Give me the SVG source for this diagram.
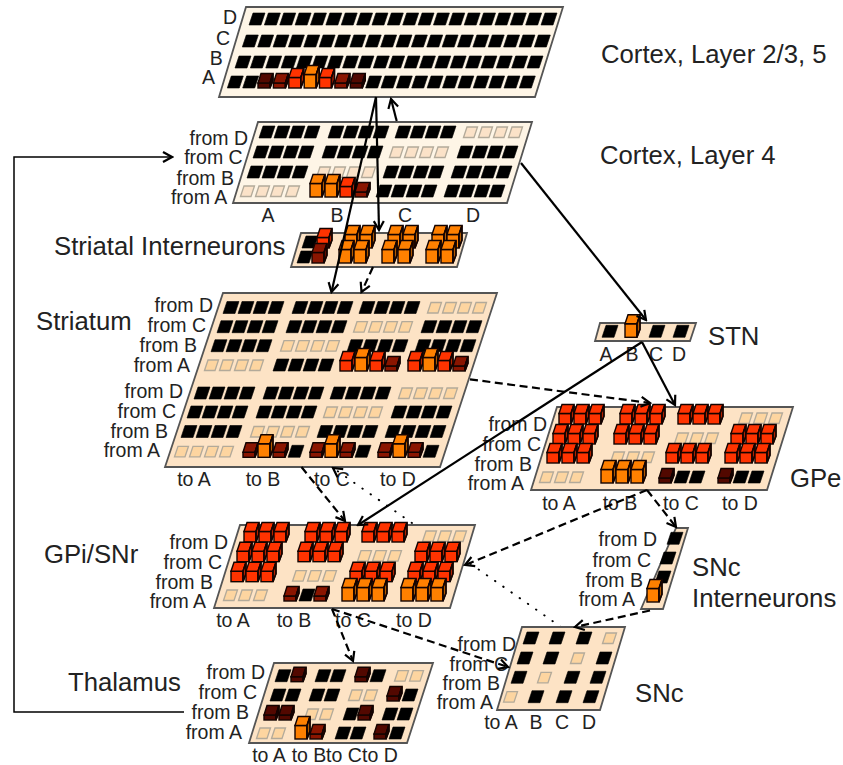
<svg xmlns="http://www.w3.org/2000/svg" width="843" height="765" viewBox="0 0 843 765">
<style>
text{font-family:"Liberation Sans",Arial,sans-serif;fill:#222}
.L{font-size:25.7px}
.s{font-size:19.5px;text-anchor:end}
.c{font-size:19.5px;text-anchor:middle}
.p{stroke:#555;stroke-width:1.8}
.pl{fill:#fef5e6}
.pk{fill:#fde3c5}
.cn{fill:none;stroke:#000;stroke-width:2.2;marker-end:url(#a)}
.da{stroke-dasharray:8 4.5}
.dt{stroke-width:1.9;stroke-dasharray:.5 9.5;stroke-linecap:round}
.nm{marker-end:none}
.lt{fill:#fbe2c8}
</style>
<defs>
<marker id="a" viewBox="-12 -7 14 14" refX="0" refY="0" markerWidth="14" markerHeight="14" markerUnits="userSpaceOnUse" orient="auto"><path d="M-9,-5 L0,0 L-9,5" fill="none" stroke="#000" stroke-width="2.2"/></marker>
<polygon id="k" points="0,0 4,-12 16,-12 12,0" fill="#000" stroke="#000" stroke-width=".6"/>
<polygon id="e0" points="0.5,-0.5 4,-11 14.5,-11 11,-0.5" stroke="#b3aa9a" stroke-width="1.3"/>
<use id="e" href="#e0" fill="#fdd5a0"/>
<g id="c13" stroke="#140300" stroke-width="1.4"><rect x="0" y="-13.5" width="12" height="13.5"/><polygon points="0,-13.5 3,-22.5 15,-22.5 12,-13.5"/><polygon points="12,-13.5 15,-22.5 15,-8 12,0"/><polygon points="12,-13.5 15,-22.5 15,-8 12,0" fill="#000" fill-opacity=".3"/></g>
<g id="c10" stroke="#140300" stroke-width="1.4"><rect x="0" y="-10.5" width="12" height="10.5"/><polygon points="0,-10.5 3,-19.5 15,-19.5 12,-10.5"/><polygon points="12,-10.5 15,-19.5 15,-8 12,0"/><polygon points="12,-10.5 15,-19.5 15,-8 12,0" fill="#000" fill-opacity=".3"/></g>
<g id="c5" stroke="#140300" stroke-width="1.4"><rect x="0" y="-5" width="12" height="5"/><polygon points="0,-5 3,-14.5 15,-14.5 12,-5"/><polygon points="12,-5 15,-14.5 15,-8 12,0"/><polygon points="12,-5 15,-14.5 15,-8 12,0" fill="#000" fill-opacity=".3"/></g>
<use id="o" href="#c13" fill="#ff8000"/>
<use id="r" href="#c10" fill="#ff3300"/>
<use id="d" href="#c5" fill="#8a1500"/>
<use id="x" href="#c5" fill="#520800"/>
<g id="k4"><use href="#k"/><use href="#k" x="15"/><use href="#k" x="30"/><use href="#k" x="45"/></g>
<g id="e4"><use href="#e"/><use href="#e" x="15"/><use href="#e" x="30"/><use href="#e" x="45"/></g>
<g id="l4"><use href="#e0"/><use href="#e0" x="15"/><use href="#e0" x="30"/><use href="#e0" x="45"/></g>
<g id="r3"><use href="#r"/><use href="#r" x="15"/><use href="#r" x="30"/></g>
<g id="o3"><use href="#o"/><use href="#o" x="15"/><use href="#o" x="30"/></g>
<g id="e3"><use href="#e"/><use href="#e" x="15"/><use href="#e" x="30"/></g>
<g id="k5"><use href="#k"/><use href="#k" x="15.37"/><use href="#k" x="30.74"/><use href="#k" x="46.11"/><use href="#k" x="61.48"/></g>
<g id="k20"><use href="#k5"/><use href="#k5" x="76.85"/><use href="#k5" x="153.7"/><use href="#k5" x="230.55"/></g>
<g id="h3"><use href="#r" x="0"/><use href="#o" x="15"/><use href="#r" x="30"/><use href="#d" x="45"/></g>
<g id="h4"><use href="#d" x="0"/><use href="#o" x="15"/><use href="#d" x="30"/><use href="#k" x="45"/></g>
</defs>
<rect width="843" height="765" fill="#fff"/>

<path class="cn dt nm" d="M561,627 L468,562"/>
<g id="cortex23">
<polygon class="p pl" points="246,7 563,7 535,97 219,97"/>
<use href="#k20" x="249" y="25"/><use href="#k20" x="242.3" y="47"/><use href="#k20" x="235" y="68"/>
<use href="#k" x="227.3" y="88"/><use href="#k" x="242.7" y="88"/><use href="#x" x="258" y="88"/><use href="#d" x="273.4" y="88"/><use href="#r" x="288.8" y="88"/><use href="#o" x="304.2" y="88"/><use href="#r" x="319.5" y="88"/><use href="#d" x="334.9" y="88"/><use href="#x" x="350.3" y="88"/><use href="#k5" x="365.6" y="88"/><use href="#k5" x="442.5" y="88"/><use href="#k" x="519.3" y="88"/>
<text class="s" x="237" y="24">D</text><text class="s" x="230" y="45">C</text><text class="s" x="222.7" y="65">B</text><text class="s" x="215" y="84">A</text>
<text class="L" x="601" y="63">Cortex, Layer 2/3, 5</text>
</g>

<g id="cortex4">
<polygon class="p pl" points="258,122 532,122 507,203 233,203"/>
<use href="#k4" x="259" y="138"/><use href="#k4" x="328" y="138"/><use href="#k4" x="395" y="138"/><use class="lt" href="#l4" x="463" y="138"/>
<use href="#k4" x="253" y="158"/><use href="#k4" x="322" y="158"/><use class="lt" href="#l4" x="389" y="158"/><use href="#k4" x="457" y="158"/>
<use href="#k4" x="247" y="178"/><use class="lt" href="#l4" x="316" y="178"/><use href="#k4" x="383" y="178"/><use href="#k4" x="451" y="178"/>
<use class="lt" href="#l4" x="240" y="197"/><use href="#o" x="310" y="197"/><use href="#o" x="325" y="197"/><use href="#r" x="340" y="197"/><use href="#d" x="355" y="197"/><use href="#k4" x="376" y="197"/><use href="#k4" x="444" y="197"/>
<text class="s" x="248" y="145">from D</text><text class="s" x="242.7" y="164">from C</text><text class="s" x="234" y="185">from B</text><text class="s" x="227.3" y="204">from A</text>
<text class="c" x="268" y="222">A</text><text class="c" x="337" y="222">B</text><text class="c" x="405" y="222">C</text><text class="c" x="473" y="222">D</text>
<text class="L" x="600" y="164">Cortex, Layer 4</text>
</g>

<g id="striatal-interneurons">
<polygon class="p pk" points="301,233 467,233 457,267 291,267"/>
<use href="#k" x="302" y="248"/><use href="#k" x="297" y="263"/><use href="#r" x="317" y="248"/><use href="#c10" fill="#8a1500" x="312" y="263"/>
<use href="#o" x="345" y="248"/><use href="#o" x="360" y="248"/><use href="#o" x="339" y="263"/><use href="#o" x="354" y="263"/>
<use href="#o" x="388" y="248"/><use href="#o" x="403" y="248"/><use href="#o" x="382" y="263"/><use href="#o" x="398" y="263"/>
<use href="#o" x="432" y="248"/><use href="#o" x="447" y="248"/><use href="#o" x="426" y="263"/><use href="#o" x="441" y="263"/>
<text class="L" x="54" y="255">Striatal Interneurons</text>
</g>

<g id="striatum">
<polygon class="p pk" points="223,293 497,293 440,467 165,467"/>
<use href="#k4" x="223" y="313.5"/><use href="#k4" x="292" y="313.5"/><use href="#k4" x="359" y="313.5"/><use href="#e4" x="427" y="313.5"/>
<use href="#k4" x="217" y="332.7"/><use href="#k4" x="286" y="332.7"/><use href="#e4" x="353" y="332.7"/><use href="#k4" x="421" y="332.7"/>
<use href="#k4" x="211" y="351.7"/><use href="#e4" x="280" y="351.7"/><use href="#k4" x="347" y="351.7"/><use href="#k4" x="415" y="351.7"/>
<use href="#e4" x="204" y="371"/><use href="#k4" x="273" y="371"/><use href="#h3" x="340" y="371"/><use href="#h3" x="408" y="371"/>
<use href="#k4" x="194" y="399"/><use href="#k4" x="263" y="399"/><use href="#k4" x="330" y="399"/><use href="#e4" x="398" y="399"/>
<use href="#k4" x="187" y="418"/><use href="#k4" x="256" y="418"/><use href="#e4" x="323" y="418"/><use href="#k4" x="391" y="418"/>
<use href="#k4" x="181" y="437.5"/><use href="#e4" x="250" y="437.5"/><use href="#k4" x="317" y="437.5"/><use href="#k4" x="385" y="437.5"/>
<use href="#e4" x="174" y="457.3"/><use href="#h4" x="243" y="457.3"/><use href="#h4" x="310" y="457.3"/><use href="#h4" x="378" y="457.3"/>
<text class="s" x="213" y="312">from D</text><text class="s" x="206" y="332">from C</text><text class="s" x="197" y="352">from B</text><text class="s" x="190" y="372">from A</text>
<text class="s" x="183" y="398">from D</text><text class="s" x="176" y="418">from C</text><text class="s" x="168" y="438">from B</text><text class="s" x="160" y="457">from A</text>
<text class="c" x="194" y="486">to A</text><text class="c" x="263" y="486">to B</text><text class="c" x="332" y="486">to C</text><text class="c" x="398" y="486">to D</text>
<text class="L" x="36" y="330">Striatum</text>
</g>

<g id="stn">
<polygon class="p pk" points="600,323 696,323 690,341 595,341"/>
<use href="#k" x="602" y="337.3"/><use href="#o" x="625" y="337.3"/><use href="#k" x="649" y="337.3"/><use href="#k" x="673" y="337.3"/>
<text class="c" x="606" y="361">A</text><text class="c" x="632" y="361">B</text><text class="c" x="656" y="361">C</text><text class="c" x="679" y="361">D</text>
<text class="L" x="708" y="345">STN</text>
</g>

<g id="gpe">
<polygon class="p pk" points="557,407 793,407 767,490 531,490"/>
<use href="#r3" x="559" y="424"/><use href="#r3" x="620" y="424"/><use href="#r3" x="678" y="424"/><use href="#e3" x="738" y="424"/>
<use href="#r3" x="553" y="444"/><use href="#r3" x="614" y="444"/><use href="#e3" x="674" y="444"/><use href="#r3" x="731" y="444"/>
<use href="#r3" x="547" y="463"/><use href="#e3" x="610" y="463"/><use href="#r3" x="666" y="463"/><use href="#r3" x="725" y="463"/>
<use href="#e3" x="539" y="483"/><use href="#o3" x="601" y="483"/><use href="#x" x="659" y="483"/><use href="#k" x="674" y="483"/><use href="#k" x="689" y="483"/><use href="#x" x="718" y="483"/><use href="#k" x="733" y="483"/><use href="#k" x="748" y="483"/>
<text class="s" x="547" y="431">from D</text><text class="s" x="541" y="451">from C</text><text class="s" x="532" y="471">from B</text><text class="s" x="524" y="490">from A</text>
<text class="c" x="559" y="510">to A</text><text class="c" x="620" y="510">to B</text><text class="c" x="681" y="510">to C</text><text class="c" x="740" y="510">to D</text>
<text class="L" x="790" y="487">GPe</text>
</g>

<g id="gpi-snr">
<polygon class="p pk" points="240,525 475,525 450,608 214,608"/>
<use href="#r3" x="244" y="542"/><use href="#r3" x="305" y="542"/><use href="#r3" x="362" y="542"/><use href="#e3" x="422" y="542"/>
<use href="#r3" x="237" y="561.7"/><use href="#r3" x="298" y="561.7"/><use href="#e3" x="357" y="561.7"/><use href="#r3" x="415" y="561.7"/>
<use href="#r3" x="231" y="581.7"/><use href="#e3" x="292" y="581.7"/><use href="#r3" x="350" y="581.7"/><use href="#r3" x="408" y="581.7"/>
<use href="#e3" x="223" y="601"/><use href="#d" x="284" y="601"/><use href="#k" x="299" y="601"/><use href="#d" x="314" y="601"/><use href="#o3" x="342" y="601"/><use href="#o3" x="401" y="601"/>
<text class="s" x="228" y="549">from D</text><text class="s" x="222" y="569">from C</text><text class="s" x="213" y="589">from B</text><text class="s" x="206" y="608">from A</text>
<text class="c" x="233" y="627">to A</text><text class="c" x="294" y="627">to B</text><text class="c" x="353" y="627">to C</text><text class="c" x="414" y="627">to D</text>
<text class="L" x="44" y="563">GPi/SNr</text>
</g>

<g id="snc-interneurons">
<polygon class="p pk" points="676,528 688,528 663,609 641,609"/>
<use href="#k" x="667" y="544.3"/><use href="#k" x="660" y="564"/><use href="#k" x="655" y="583"/><use href="#o" x="647" y="602"/>
<text class="s" x="657" y="546">from D</text><text class="s" x="651" y="567">from C</text><text class="s" x="643" y="587">from B</text><text class="s" x="635" y="606">from A</text>
<text class="L" x="692" y="576">SNc</text><text class="L" x="692" y="607">Interneurons</text>
</g>

<g id="snc">
<polygon class="p pk" points="522,627 625,627 600,710 497,710"/>
<use href="#k" x="523" y="644"/><use href="#k" x="549" y="644"/><use href="#k" x="576" y="644"/><use href="#e" x="602" y="644"/>
<use href="#k" x="517" y="664"/><use href="#k" x="543" y="664"/><use href="#e" x="570" y="664"/><use href="#k" x="596" y="664"/>
<use href="#k" x="511" y="683.3"/><use href="#e" x="537" y="683.3"/><use href="#k" x="564" y="683.3"/><use href="#k" x="590" y="683.3"/>
<use href="#e" x="503" y="702.7"/><use href="#k" x="528" y="702.7"/><use href="#k" x="556" y="702.7"/><use href="#k" x="583" y="702.7"/>
<text class="s" x="516" y="651">from D</text><text class="s" x="508" y="671">from C</text><text class="s" x="500" y="690">from B</text><text class="s" x="493" y="709">from A</text>
<text class="c" x="501" y="729">to A</text><text class="c" x="536" y="729">B</text><text class="c" x="562" y="729">C</text><text class="c" x="589" y="729">D</text>
<text class="L" x="635" y="702">SNc</text>
</g>

<g id="thalamus">
<polygon class="p pk" points="274,663 433,663 407,743 249,743"/>
<use href="#k" x="275" y="681.7"/><use href="#x" x="291" y="681.7"/><use href="#k" x="315" y="681.7"/><use href="#k" x="330" y="681.7"/><use href="#x" x="355" y="681.7"/><use href="#k" x="370" y="681.7"/><use href="#e" x="394" y="681.7"/><use href="#e" x="409" y="681.7"/>
<use href="#k" x="270" y="701"/><use href="#k" x="285" y="701"/><use href="#k" x="309" y="701"/><use href="#k" x="324" y="701"/><use href="#e" x="348" y="701"/><use href="#e" x="363" y="701"/><use href="#x" x="387" y="701"/><use href="#k" x="402" y="701"/>
<use href="#x" x="264" y="720"/><use href="#x" x="279" y="720"/><use href="#e" x="304" y="720"/><use href="#e" x="319" y="720"/><use href="#k" x="343" y="720"/><use href="#x" x="358" y="720"/><use href="#k" x="382" y="720"/><use href="#k" x="397" y="720"/>
<use href="#e" x="256" y="739"/><use href="#e" x="271" y="739"/><use href="#o" x="295" y="739"/><use href="#d" x="310" y="739"/><use href="#k" x="335" y="739"/><use href="#k" x="350" y="739"/><use href="#x" x="374" y="739"/><use href="#k" x="389" y="739"/>
<text class="s" x="265" y="679">from D</text><text class="s" x="257" y="699">from C</text><text class="s" x="249" y="719">from B</text><text class="s" x="242" y="739">from A</text>
<text class="c" x="269" y="762">to A</text><text class="c" x="309" y="762">to B</text><text class="c" x="344" y="762">to C</text><text class="c" x="380" y="762">to D</text>
<text class="L" x="68" y="691">Thalamus</text>
</g>

<g id="connectors">
<path class="cn" d="M376,97 L331.5,292"/>
<path class="cn" d="M376,97 L379,230"/>
<path class="cn" d="M396.7,121 L391,99"/>
<path class="cn" d="M521,163 L646,320"/>
<path class="cn da" d="M373,267 L361.5,292"/>
<path class="cn da" d="M470,379.3 L650,403"/>
<path class="cn" d="M642,342 L675,405"/>
<path class="cn" d="M642,342 L358,525"/>
<path class="cn da" d="M301.5,467 L345,521"/>
<path class="cn dt" d="M412,523 L333,468"/>
<path class="cn da" d="M332,609 L353,661"/>
<path class="cn da" d="M332,609 L508,667"/>
<path class="cn da" d="M647,490 L465,565"/>
<path class="cn da" d="M647,490 L676,527"/>
<path class="cn da" d="M650,610.5 L575,627"/>
<path class="cn" style="stroke-width:1.5" d="M184,712 L14,712 L14,157 L172,157"/>
</g>
</svg>
